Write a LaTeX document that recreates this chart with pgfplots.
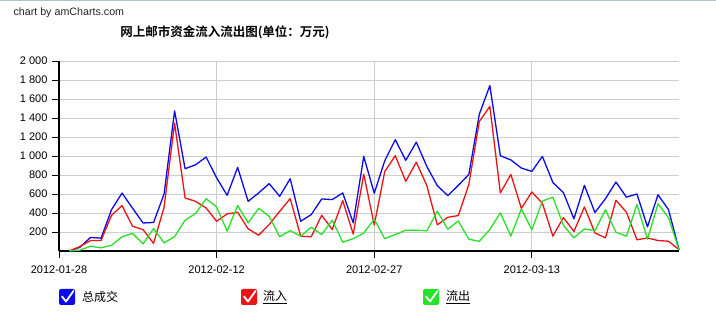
\documentclass[border=0pt]{standalone}
\usepackage{pgfplots}
\usepackage{pgfplotstable}
\pgfplotsset{compat=1.18}
\usepackage{fontspec}
\setmainfont{Liberation Sans}
\newfontfamily\cjk{Noto Sans CJK SC}
\newfontfamily\cjkb{Noto Sans CJK SC Bold}
\definecolor{cblue}{RGB}{10,10,235}
\definecolor{cred}{RGB}{235,20,20}
\definecolor{cgreen}{RGB}{40,225,40}
\definecolor{gridc}{RGB}{205,205,205}
\pgfplotstableread{
day total inflow outflow
1 0 0 0
2 40 47 9
3 143 110 50
4 135 110 33
5 435 376 60
6 610 478 150
7 450 260 185
8 295 225 75
9 300 80 236
10 600 460 86
11 1475 1346 150
12 866 558 324
13 908 523 394
14 989 453 551
15 770 313 464
16 586 390 208
17 880 408 478
18 523 233 296
19 611 166 449
20 709 278 366
21 576 418 149
22 761 551 215
23 313 156 156
24 383 149 250
25 548 376 173
26 541 226 324
27 611 530 93
28 296 178 130
29 996 809 188
30 608 273 335
31 950 837 130
32 1171 1003 173
33 954 733 219
34 1146 935 219
35 891 690 212
36 688 275 418
37 583 355 230
38 691 373 316
39 806 700 124
40 1440 1363 102
41 1741 1521 226
42 1003 611 401
43 958 806 156
44 873 448 443
45 838 621 222
46 996 502 526
47 720 156 567
48 615 352 270
49 338 205 138
50 691 464 233
51 405 191 213
52 550 138 434
53 726 534 198
54 567 408 156
55 600 118 489
56 254 138 125
57 592 110 496
58 436 103 350
59 15 15 15
}\datatable
\begin{document}
\begin{tikzpicture}
\fill[white] (0,0) rectangle (716pt,326pt);
\path[use as bounding box] (0,0) rectangle (716pt,326pt);
\draw[color={rgb,255:red,175;green,195;blue,205}, line width=1pt] (0,325.5pt) -- (716pt,325.5pt);
\node[anchor=west, font=\fontsize{10.7}{12}\selectfont, text=black!85] at (10pt,313pt) {chart by amCharts.com};
\node[font=\cjkb\fontsize{12.5}{14}\selectfont] at (225pt,294pt) {网上邮市资金流入流出图(单位：万元)};
\begin{axis}[
  at={(59pt,75pt)}, anchor=south west,
  scale only axis, width=620pt, height=190pt,
  xmin=0, xmax=59, ymin=0, ymax=2000,
  axis x line*=bottom, axis y line*=left,
  axis line style={-, black, line width=2pt},
  xtick={0,15,30,45},
  xticklabels={2012-01-28,2012-02-12,2012-02-27,2012-03-13},
  ytick={200,400,...,2000},
  yticklabels={200,400,600,800,1 000,1 200,1 400,1 600,1 800,2 000},
  tick align=outside, major tick length=7pt,
  tick style={black, line width=0.8pt},
  xmajorgrids, ymajorgrids,
  major grid style={gridc, line width=0.8pt},
  ticklabel style={font=\fontsize{11}{13}\selectfont},
  xticklabel style={yshift=-4pt},
  yticklabel style={xshift=-1pt},
  every axis plot/.append style={line width=1.3pt, line join=round},
  clip=false,
]
\addplot[cblue, no markers] table[x=day, y=total] {\datatable};
\addplot[cred, no markers] table[x=day, y=inflow] {\datatable};
\addplot[cgreen, no markers] table[x=day, y=outflow] {\datatable};
\end{axis}
% legend
\begin{scope}[font=\cjk\fontsize{12}{14}\selectfont]
\fill[cblue, rounded corners=2pt] (59pt,21pt) rectangle (75pt,37pt);
\draw[white, line width=1.8pt, line cap=round, line join=round] (62pt,29.5pt) -- (66pt,24.5pt) -- (73.5pt,35pt);
\node[anchor=west, inner sep=0pt] at (82pt,29pt) {总成交};
\fill[cred, rounded corners=2pt] (241pt,21pt) rectangle (257pt,37pt);
\draw[white, line width=1.8pt, line cap=round, line join=round] (244pt,29.5pt) -- (248pt,24.5pt) -- (255.5pt,35pt);
\node[anchor=west, inner sep=0pt] at (263pt,29pt) {\underline{流入}};
\fill[cgreen, rounded corners=2pt] (423pt,21pt) rectangle (439pt,37pt);
\draw[white, line width=1.8pt, line cap=round, line join=round] (426pt,29.5pt) -- (430pt,24.5pt) -- (437.5pt,35pt);
\node[anchor=west, inner sep=0pt] at (446pt,29pt) {\underline{流出}};
\end{scope}
\end{tikzpicture}
\end{document}
